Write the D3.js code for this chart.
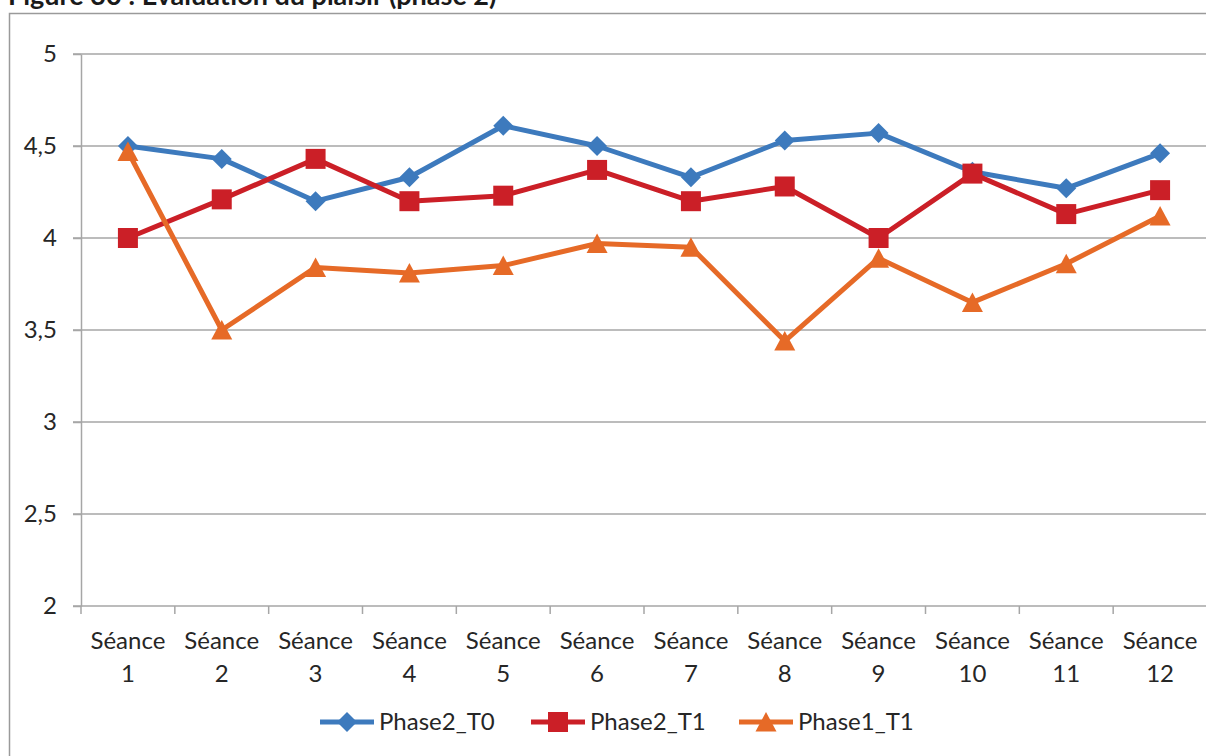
<!DOCTYPE html>
<html>
<head>
<meta charset="utf-8">
<script src="https://cdn.jsdelivr.net/npm/d3@7"></script>
<style>
  html, body { margin: 0; padding: 0; background: #ffffff; }
  svg { display: block; font-family: Lato, "Open Sans", sans-serif; }
</style>
</head>
<body>
<svg id="chart" width="1206" height="756"></svg>
<script>
// Séances (categories)
const categories = ["Séance 1", "Séance 2", "Séance 3", "Séance 4", "Séance 5", "Séance 6",
                    "Séance 7", "Séance 8", "Séance 9", "Séance 10", "Séance 11", "Séance 12"];

// Mean pleasure score per session
const phase2T0 = [4.50, 4.43, 4.20, 4.33, 4.61, 4.50, 4.33, 4.53, 4.57, 4.36, 4.27, 4.46];
const phase2T1 = [4.00, 4.21, 4.43, 4.20, 4.23, 4.37, 4.20, 4.28, 4.00, 4.35, 4.13, 4.26];
const phase1T1 = [4.47, 3.50, 3.84, 3.81, 3.85, 3.97, 3.95, 3.44, 3.89, 3.65, 3.86, 4.12];

const seriesNames = ["Phase2_T0", "Phase2_T1", "Phase1_T1"];
const yTicks = [2, 2.5, 3, 3.5, 4, 4.5, 5];
const title = "Figure 30 : Évaluation du plaisir (phase 2)";

const series = [
  { name: seriesNames[0], values: phase2T0, color: "#3d7abd", marker: "diamond" },
  { name: seriesNames[1], values: phase2T1, color: "#cb1f27", marker: "square" },
  { name: seriesNames[2], values: phase1T1, color: "#e66a27", marker: "triangle" }
];

const svg = d3.select("#chart");
const plot = { left: 81, right: 1207, top: 54, bottom: 606 };
const gridColor = "#a6a6a6";
const textColor = "#262626";

const x = d3.scaleBand().domain(categories).range([plot.left, plot.right]).padding(0);
const y = d3.scaleLinear().domain([2, 5]).range([plot.bottom, plot.top]);
const cx = c => x(c) + x.bandwidth() / 2;

// Title (runs above the top of the page)
svg.append("text")
  .attr("x", 8).attr("y", 5)
  .attr("font-weight", "bold")
  .attr("font-size", 27)
  .attr("fill", "#1a1a1a")
  .text(title);

// Chart frame
svg.append("rect")
  .attr("x", 9.5).attr("y", 13.5)
  .attr("width", 1250).attr("height", 800)
  .attr("fill", "none")
  .attr("stroke", "#9a9a9a")
  .attr("stroke-width", 1.5);

// Horizontal gridlines
svg.append("g")
  .selectAll("line")
  .data(yTicks.filter(t => t !== 2))
  .join("line")
  .attr("x1", plot.left - 8).attr("x2", plot.right)
  .attr("y1", d => y(d)).attr("y2", d => y(d))
  .attr("stroke", gridColor).attr("stroke-width", 1.5);

// Y axis
const yAxis = svg.append("g")
  .attr("transform", `translate(${plot.left},0)`)
  .call(d3.axisLeft(y).tickValues(yTicks).tickSize(8).tickSizeOuter(0)
    .tickFormat(d => String(d).replace(".", ",")));
yAxis.select(".domain").attr("stroke", gridColor).attr("stroke-width", 1.5);
yAxis.selectAll(".tick line").attr("stroke", gridColor).attr("stroke-width", 1.5);
yAxis.selectAll(".tick text")
  .attr("x", -24)
  .attr("font-size", 24)
  .attr("font-family", "Lato, sans-serif")
  .attr("fill", textColor);

// X axis line with ticks at band edges
const xAxis = svg.append("g");
xAxis.append("line")
  .attr("x1", plot.left - 8).attr("x2", plot.right)
  .attr("y1", plot.bottom).attr("y2", plot.bottom)
  .attr("stroke", gridColor).attr("stroke-width", 1.5);
const edges = categories.map(c => x(c)).concat([x(categories[categories.length - 1]) + x.bandwidth()]);
xAxis.selectAll("line.tick")
  .data(edges)
  .join("line")
  .attr("class", "tick")
  .attr("x1", d => d).attr("x2", d => d)
  .attr("y1", plot.bottom).attr("y2", plot.bottom + 8)
  .attr("stroke", gridColor).attr("stroke-width", 1.5);

// X category labels on two lines
const xl = xAxis.selectAll("text")
  .data(categories)
  .join("text")
  .attr("text-anchor", "middle")
  .attr("font-size", 24)
  .attr("fill", textColor);
xl.append("tspan").attr("x", d => cx(d)).attr("y", 649).text(d => d.split(" ")[0]);
xl.append("tspan").attr("x", d => cx(d)).attr("y", 682).text(d => d.split(" ")[1]);

// Marker symbols (centred on their bounding box)
function markerPath(kind) {
  if (kind === "diamond") return "M0,-10L10,0L0,10L-10,0Z";
  if (kind === "square") return "M-10,-10H10V10H-10Z";
  return "M0,-10L10.5,9.5L-10.5,9.5Z";
}

// Series lines and markers
const line = d3.line().x((d, i) => cx(categories[i])).y(d => y(d));
series.forEach(s => {
  const g = svg.append("g");
  g.append("path")
    .attr("d", line(s.values))
    .attr("fill", "none")
    .attr("stroke", s.color)
    .attr("stroke-width", 5)
    .attr("stroke-linejoin", "round");
  g.selectAll("path.m")
    .data(s.values)
    .join("path")
    .attr("class", "m")
    .attr("d", markerPath(s.marker))
    .attr("transform", (d, i) => `translate(${cx(categories[i])},${y(d)})`)
    .attr("fill", s.color);
});

// Legend
const legendX = [320, 531, 739];
const legendY = 722;
series.forEach((s, i) => {
  const g = svg.append("g").attr("transform", `translate(${legendX[i]},${legendY})`);
  g.append("line")
    .attr("x1", 0).attr("x2", 54)
    .attr("stroke", s.color).attr("stroke-width", 5);
  g.append("path")
    .attr("d", markerPath(s.marker))
    .attr("transform", "translate(27,0)")
    .attr("fill", s.color);
  g.append("text")
    .attr("x", 59).attr("y", 0)
    .attr("dy", "0.35em")
    .attr("font-size", 24)
    .attr("fill", textColor)
    .text(s.name);
});
</script>
</body>
</html>
